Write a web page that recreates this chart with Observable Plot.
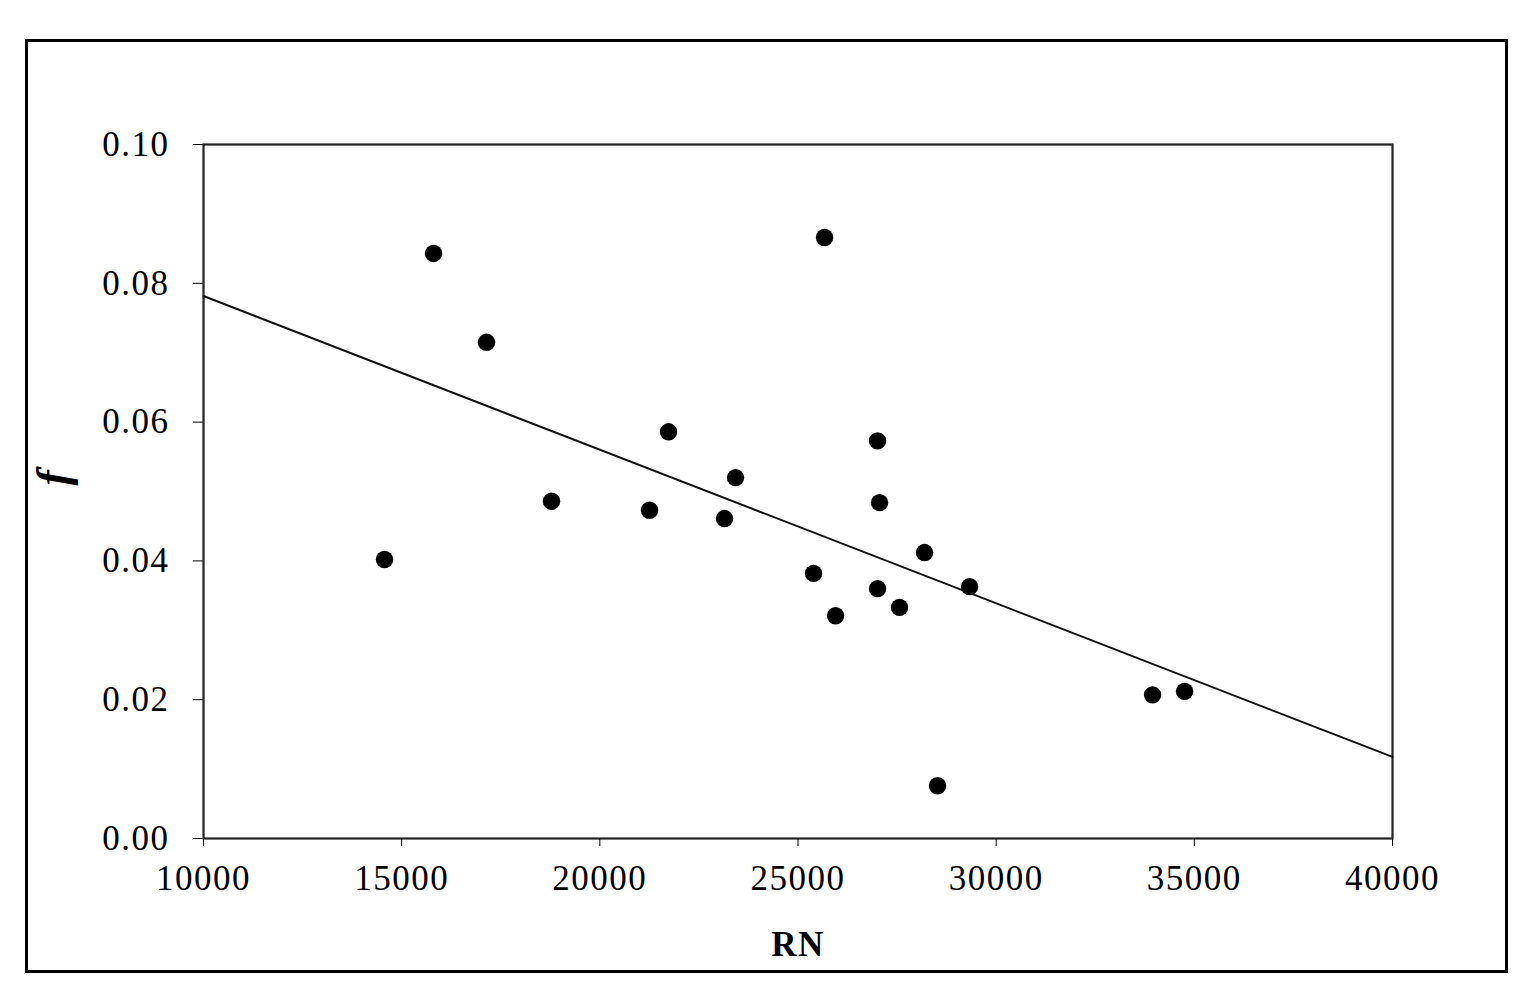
<!DOCTYPE html>
<html>
<head>
<meta charset="utf-8">
<script src="https://cdn.jsdelivr.net/npm/d3@7"></script>
<script src="https://cdn.jsdelivr.net/npm/@observablehq/plot@0.6"></script>
<style>
  html, body { margin: 0; padding: 0; background: #fff; }
  #wrap { position: relative; width: 1525px; height: 1000px; }
  #border { position: absolute; left: 25px; top: 39px; width: 1477px; height: 928px; border: 3px solid #000; pointer-events: none; }
  svg text { letter-spacing: 1.5px; }
</style>
</head>
<body>
<div id="wrap"><div id="border"></div></div>
<script>
// Data
const rn = [14567, 15804, 17141, 18781, 21254, 21734, 23147, 23424, 25392, 25670,
            25948, 27007, 27058, 27007, 27562, 28193, 28521, 29329, 33946, 34754];
const fval = [0.0402, 0.0843, 0.0715, 0.0486, 0.0473, 0.0586, 0.0461, 0.0520, 0.0382, 0.0866,
              0.0321, 0.0573, 0.0484, 0.0360, 0.0333, 0.0412, 0.0076, 0.0363, 0.0207, 0.0212];
const xTicks = [10000, 15000, 20000, 25000, 30000, 35000, 40000];
const yTicks = [0.00, 0.02, 0.04, 0.06, 0.08, 0.10];
const xLabel = "RN";
const yLabel = "f";

const points = rn.map((x, i) => ({x, y: fval[i]}));

// least squares fit, drawn across the whole x domain
const mx = d3.mean(rn), my = d3.mean(fval);
const slope = d3.sum(rn, (x, i) => (x - mx) * (fval[i] - my)) / d3.sum(rn, x => (x - mx) ** 2);
const intercept = my - slope * mx;
const fitLine = [xTicks[0], xTicks[xTicks.length - 1]].map(x => ({x, y: intercept + slope * x}));

const chart = Plot.plot({
  width: 1525,
  height: 1000,
  marginLeft: 203,
  marginRight: 133,
  marginTop: 144,
  marginBottom: 162,
  style: {fontFamily: "'Liberation Serif', 'Times New Roman', serif", fontSize: "35px", color: "#000", background: "transparent"},
  x: {domain: [10000, 40000], ticks: xTicks, tickFormat: d => String(d), tickSize: 8, tickPadding: 19, label: null},
  y: {domain: [0, 0.10], ticks: yTicks, tickFormat: d3.format(".2f"), tickSize: 10, tickPadding: 24, label: null},
  marks: [
    Plot.frame({stroke: "#222", strokeWidth: 2.2}),
    Plot.line(fitLine, {x: "x", y: "y", stroke: "#111", strokeWidth: 2}),
    Plot.dot(points, {x: "x", y: "y", r: 8.7, fill: "#000", stroke: "none"}),
    Plot.text([xLabel], {text: d => d, frameAnchor: "bottom", lineAnchor: "middle", dy: 106, fontWeight: "bold", fontSize: 35, fill: "#000"}),
    Plot.text([yLabel], {text: d => d, frameAnchor: "left", lineAnchor: "middle", dx: -150, dy: -6, rotate: -90, fontStyle: "italic", fontWeight: "bold", fontSize: 46, fill: "#000"})
  ]
});
chart.style.position = "absolute";
chart.style.left = "0";
chart.style.top = "0";
document.getElementById("wrap").prepend(chart);
</script>
</body>
</html>
